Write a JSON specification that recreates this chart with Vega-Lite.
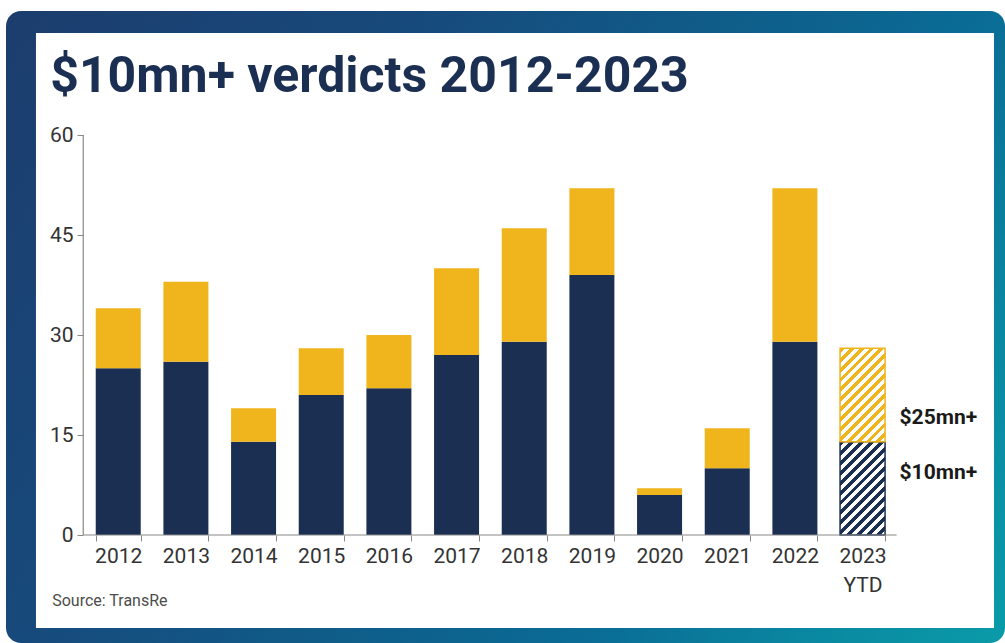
{
  "$schema": "https://vega.github.io/schema/vega-lite/v6.json",
  "width": 999,
  "height": 632,
  "autosize": {"type": "none"},
  "padding": {"left": 6, "top": 11, "right": 0, "bottom": 0},
  "background": "#ffffff",
  "config": {"view": {"stroke": null}, "font": "Roboto"},
  "datasets": {
    "verdicts": [
      {"year": "2012", "series": "$10mn+", "count": 25},
      {"year": "2012", "series": "$25mn+", "count": 9},
      {"year": "2013", "series": "$10mn+", "count": 26},
      {"year": "2013", "series": "$25mn+", "count": 12},
      {"year": "2014", "series": "$10mn+", "count": 14},
      {"year": "2014", "series": "$25mn+", "count": 5},
      {"year": "2015", "series": "$10mn+", "count": 21},
      {"year": "2015", "series": "$25mn+", "count": 7},
      {"year": "2016", "series": "$10mn+", "count": 22},
      {"year": "2016", "series": "$25mn+", "count": 8},
      {"year": "2017", "series": "$10mn+", "count": 27},
      {"year": "2017", "series": "$25mn+", "count": 13},
      {"year": "2018", "series": "$10mn+", "count": 29},
      {"year": "2018", "series": "$25mn+", "count": 17},
      {"year": "2019", "series": "$10mn+", "count": 39},
      {"year": "2019", "series": "$25mn+", "count": 13},
      {"year": "2020", "series": "$10mn+", "count": 6},
      {"year": "2020", "series": "$25mn+", "count": 1},
      {"year": "2021", "series": "$10mn+", "count": 10},
      {"year": "2021", "series": "$25mn+", "count": 6},
      {"year": "2022", "series": "$10mn+", "count": 29},
      {"year": "2022", "series": "$25mn+", "count": 23},
      {"year": "2023 YTD", "series": "$10mn+", "count": 14},
      {"year": "2023 YTD", "series": "$25mn+", "count": 14}
    ]
  },
  "layer": [
    {
      "data": {"values": [{}]},
      "layer": [
        {
          "mark": {
            "type": "rect",
            "cornerRadius": 15,
            "fill": {
              "gradient": "linear",
              "x1": 0, "y1": 0, "x2": 1.724, "y2": 0.69,
              "stops": [
                {"offset": 0, "color": "#1c3d6d"},
                {"offset": 0.2, "color": "#17497b"},
                {"offset": 0.45, "color": "#0b6791"},
                {"offset": 0.5, "color": "#0a6e96"},
                {"offset": 0.6, "color": "#0a88a1"},
                {"offset": 0.7, "color": "#0a9ba8"},
                {"offset": 1, "color": "#0aa8ad"}
              ]
            }
          },
          "encoding": {
            "x": {"datum": 0, "type": "quantitative", "scale": {"domain": [0, 1], "nice": false, "zero": false}, "axis": null},
            "x2": {"datum": 1},
            "y": {"datum": 0, "type": "quantitative", "scale": {"domain": [0, 1], "nice": false, "zero": false}, "axis": null},
            "y2": {"datum": 1}
          }
        },
        {
          "mark": {"type": "rect", "fill": "#ffffff"},
          "encoding": {
            "x": {"datum": 0.03, "type": "quantitative"},
            "x2": {"datum": 0.989},
            "y": {"datum": 0.0237, "type": "quantitative"},
            "y2": {"datum": 0.9652}
          }
        }
      ]
    },
    {
      "data": {"name": "verdicts"},
      "transform": [
        {"stack": "count", "groupby": ["year"], "sort": [{"field": "series", "order": "ascending"}], "as": ["y0", "y1"]}
      ],
      "layer": [
        {
          "transform": [{"filter": "datum.year != '2023 YTD'"}],
          "mark": {"type": "bar"},
          "encoding": {
            "x": {
              "field": "year",
              "type": "nominal",
              "sort": null,
              "scale": {
                "domain": ["2012", "2013", "2014", "2015", "2016", "2017", "2018", "2019", "2020", "2021", "2022", "2023 YTD"],
                "range": [78.4, 890.4],
                "paddingInner": 0.335,
                "paddingOuter": 0.1675
              },
              "axis": {
                "title": null,
                "orient": "bottom",
                "offset": -108,
                "zindex": 1,
                "domain": false,
                "grid": false,
                "ticks": true,
                "tickBand": "extent",
                "tickSize": 6,
                "tickColor": "#888888",
                "labelFont": "Roboto",
                "labelFontSize": 21,
                "labelColor": "#333333",
                "labelPadding": 4,
                "labelAngle": 0,
                "labelOverlap": false,
                "labelLineHeight": 29,
                "labelExpr": "datum.value == '2023 YTD' ? ['2023', 'YTD'] : datum.value"
              }
            },
            "y": {
              "field": "y1",
              "type": "quantitative",
              "scale": {"domain": [-16.2, 78.6], "nice": false, "zero": false},
              "axis": {
                "title": null,
                "orient": "left",
                "offset": -77,
                "zindex": 1,
                "values": [0, 15, 30, 45, 60],
                "domain": false,
                "grid": false,
                "tickSize": 6,
                "tickColor": "#888888",
                "labelFont": "Roboto",
                "labelFontSize": 21,
                "labelColor": "#333333",
                "labelPadding": 4
              }
            },
            "y2": {"field": "y0"},
            "color": {
              "field": "series",
              "type": "nominal",
              "scale": {"domain": ["$10mn+", "$25mn+"], "range": ["#1b2f52", "#f0b41c"]},
              "legend": null
            }
          }
        },
        {
          "transform": [{"filter": "datum.year == '2023 YTD' && datum.series == '$10mn+'"}],
          "mark": {
            "type": "bar",
            "stroke": "#1b2f52",
            "strokeWidth": 1.5,
            "fill": {
              "gradient": "linear",
              "x1": 0, "y1": 0, "x2": 0.58, "y2": 1.203,
              "stops": [
                {"offset": 0, "color": "#1b2f52"}, {"offset": 0.0357, "color": "#1b2f52"}, {"offset": 0.0357, "color": "#ffffff"}, {"offset": 0.0714, "color": "#ffffff"},
                {"offset": 0.0714, "color": "#1b2f52"}, {"offset": 0.1071, "color": "#1b2f52"}, {"offset": 0.1071, "color": "#ffffff"}, {"offset": 0.1429, "color": "#ffffff"},
                {"offset": 0.1429, "color": "#1b2f52"}, {"offset": 0.1786, "color": "#1b2f52"}, {"offset": 0.1786, "color": "#ffffff"}, {"offset": 0.2143, "color": "#ffffff"},
                {"offset": 0.2143, "color": "#1b2f52"}, {"offset": 0.25, "color": "#1b2f52"}, {"offset": 0.25, "color": "#ffffff"}, {"offset": 0.2857, "color": "#ffffff"},
                {"offset": 0.2857, "color": "#1b2f52"}, {"offset": 0.3214, "color": "#1b2f52"}, {"offset": 0.3214, "color": "#ffffff"}, {"offset": 0.3571, "color": "#ffffff"},
                {"offset": 0.3571, "color": "#1b2f52"}, {"offset": 0.3929, "color": "#1b2f52"}, {"offset": 0.3929, "color": "#ffffff"}, {"offset": 0.4286, "color": "#ffffff"},
                {"offset": 0.4286, "color": "#1b2f52"}, {"offset": 0.4643, "color": "#1b2f52"}, {"offset": 0.4643, "color": "#ffffff"}, {"offset": 0.5, "color": "#ffffff"},
                {"offset": 0.5, "color": "#1b2f52"}, {"offset": 0.5357, "color": "#1b2f52"}, {"offset": 0.5357, "color": "#ffffff"}, {"offset": 0.5714, "color": "#ffffff"},
                {"offset": 0.5714, "color": "#1b2f52"}, {"offset": 0.6071, "color": "#1b2f52"}, {"offset": 0.6071, "color": "#ffffff"}, {"offset": 0.6429, "color": "#ffffff"},
                {"offset": 0.6429, "color": "#1b2f52"}, {"offset": 0.6786, "color": "#1b2f52"}, {"offset": 0.6786, "color": "#ffffff"}, {"offset": 0.7143, "color": "#ffffff"},
                {"offset": 0.7143, "color": "#1b2f52"}, {"offset": 0.75, "color": "#1b2f52"}, {"offset": 0.75, "color": "#ffffff"}, {"offset": 0.7857, "color": "#ffffff"},
                {"offset": 0.7857, "color": "#1b2f52"}, {"offset": 0.8214, "color": "#1b2f52"}, {"offset": 0.8214, "color": "#ffffff"}, {"offset": 0.8571, "color": "#ffffff"},
                {"offset": 0.8571, "color": "#1b2f52"}, {"offset": 0.8929, "color": "#1b2f52"}, {"offset": 0.8929, "color": "#ffffff"}, {"offset": 0.9286, "color": "#ffffff"},
                {"offset": 0.9286, "color": "#1b2f52"}, {"offset": 0.9643, "color": "#1b2f52"}, {"offset": 0.9643, "color": "#ffffff"}, {"offset": 1, "color": "#ffffff"}
              ]
            }
          },
          "encoding": {
            "x": {"field": "year", "type": "nominal"},
            "y": {"field": "y1", "type": "quantitative"},
            "y2": {"field": "y0"}
          }
        },
        {
          "transform": [{"filter": "datum.year == '2023 YTD' && datum.series == '$25mn+'"}],
          "mark": {
            "type": "bar",
            "stroke": "#f0b41c",
            "strokeWidth": 1.5,
            "fill": {
              "gradient": "linear",
              "x1": 0, "y1": 0, "x2": 0.58, "y2": 1.203,
              "stops": [
                {"offset": 0, "color": "#f0b41c"}, {"offset": 0.0357, "color": "#f0b41c"}, {"offset": 0.0357, "color": "#ffffff"}, {"offset": 0.0714, "color": "#ffffff"},
                {"offset": 0.0714, "color": "#f0b41c"}, {"offset": 0.1071, "color": "#f0b41c"}, {"offset": 0.1071, "color": "#ffffff"}, {"offset": 0.1429, "color": "#ffffff"},
                {"offset": 0.1429, "color": "#f0b41c"}, {"offset": 0.1786, "color": "#f0b41c"}, {"offset": 0.1786, "color": "#ffffff"}, {"offset": 0.2143, "color": "#ffffff"},
                {"offset": 0.2143, "color": "#f0b41c"}, {"offset": 0.25, "color": "#f0b41c"}, {"offset": 0.25, "color": "#ffffff"}, {"offset": 0.2857, "color": "#ffffff"},
                {"offset": 0.2857, "color": "#f0b41c"}, {"offset": 0.3214, "color": "#f0b41c"}, {"offset": 0.3214, "color": "#ffffff"}, {"offset": 0.3571, "color": "#ffffff"},
                {"offset": 0.3571, "color": "#f0b41c"}, {"offset": 0.3929, "color": "#f0b41c"}, {"offset": 0.3929, "color": "#ffffff"}, {"offset": 0.4286, "color": "#ffffff"},
                {"offset": 0.4286, "color": "#f0b41c"}, {"offset": 0.4643, "color": "#f0b41c"}, {"offset": 0.4643, "color": "#ffffff"}, {"offset": 0.5, "color": "#ffffff"},
                {"offset": 0.5, "color": "#f0b41c"}, {"offset": 0.5357, "color": "#f0b41c"}, {"offset": 0.5357, "color": "#ffffff"}, {"offset": 0.5714, "color": "#ffffff"},
                {"offset": 0.5714, "color": "#f0b41c"}, {"offset": 0.6071, "color": "#f0b41c"}, {"offset": 0.6071, "color": "#ffffff"}, {"offset": 0.6429, "color": "#ffffff"},
                {"offset": 0.6429, "color": "#f0b41c"}, {"offset": 0.6786, "color": "#f0b41c"}, {"offset": 0.6786, "color": "#ffffff"}, {"offset": 0.7143, "color": "#ffffff"},
                {"offset": 0.7143, "color": "#f0b41c"}, {"offset": 0.75, "color": "#f0b41c"}, {"offset": 0.75, "color": "#ffffff"}, {"offset": 0.7857, "color": "#ffffff"},
                {"offset": 0.7857, "color": "#f0b41c"}, {"offset": 0.8214, "color": "#f0b41c"}, {"offset": 0.8214, "color": "#ffffff"}, {"offset": 0.8571, "color": "#ffffff"},
                {"offset": 0.8571, "color": "#f0b41c"}, {"offset": 0.8929, "color": "#f0b41c"}, {"offset": 0.8929, "color": "#ffffff"}, {"offset": 0.9286, "color": "#ffffff"},
                {"offset": 0.9286, "color": "#f0b41c"}, {"offset": 0.9643, "color": "#f0b41c"}, {"offset": 0.9643, "color": "#ffffff"}, {"offset": 1, "color": "#ffffff"}
              ]
            }
          },
          "encoding": {
            "x": {"field": "year", "type": "nominal"},
            "y": {"field": "y1", "type": "quantitative"},
            "y2": {"field": "y0"}
          }
        },
        {
          "data": {"values": [{}]},
          "layer": [
            {
              "mark": {"type": "rule", "color": "#888888", "strokeWidth": 1.2, "xOffset": -35},
              "encoding": {
                "x": {"datum": "2012"},
                "y": {"datum": 0},
                "y2": {"datum": 60}
              }
            },
            {
              "mark": {"type": "rule", "color": "#888888", "strokeWidth": 1.2, "xOffset": -35, "x2Offset": 34},
              "encoding": {
                "x": {"datum": "2012"},
                "x2": {"datum": "2023 YTD"},
                "y": {"datum": 0}
              }
            },
            {
              "mark": {"type": "text", "text": "$10mn+ verdicts 2012-2023", "font": "Roboto", "fontWeight": "bold", "fontSize": 50, "color": "#1b2f52", "align": "left", "baseline": "alphabetic", "dx": -68},
              "encoding": {
                "x": {"datum": "2012"},
                "y": {"datum": 66.45}
              }
            },
            {
              "mark": {"type": "text", "text": "Source: TransRe", "font": "Roboto", "fontSize": 16, "color": "#4d4d4d", "align": "left", "baseline": "alphabetic", "dx": -66},
              "encoding": {
                "x": {"datum": "2012"},
                "y": {"datum": -10.65}
              }
            },
            {
              "mark": {"type": "text", "text": "$25mn+", "font": "Roboto", "fontWeight": "bold", "fontSize": 21, "color": "#1a1a1a", "align": "left", "baseline": "middle", "dx": 37},
              "encoding": {
                "x": {"datum": "2023 YTD"},
                "y": {"datum": 17.55}
              }
            },
            {
              "mark": {"type": "text", "text": "$10mn+", "font": "Roboto", "fontWeight": "bold", "fontSize": 21, "color": "#1a1a1a", "align": "left", "baseline": "middle", "dx": 37},
              "encoding": {
                "x": {"datum": "2023 YTD"},
                "y": {"datum": 9.3}
              }
            }
          ]
        }
      ]
    }
  ],
  "resolve": {
    "scale": {"x": "independent", "y": "independent"},
    "axis": {"x": "independent", "y": "independent"}
  }
}
